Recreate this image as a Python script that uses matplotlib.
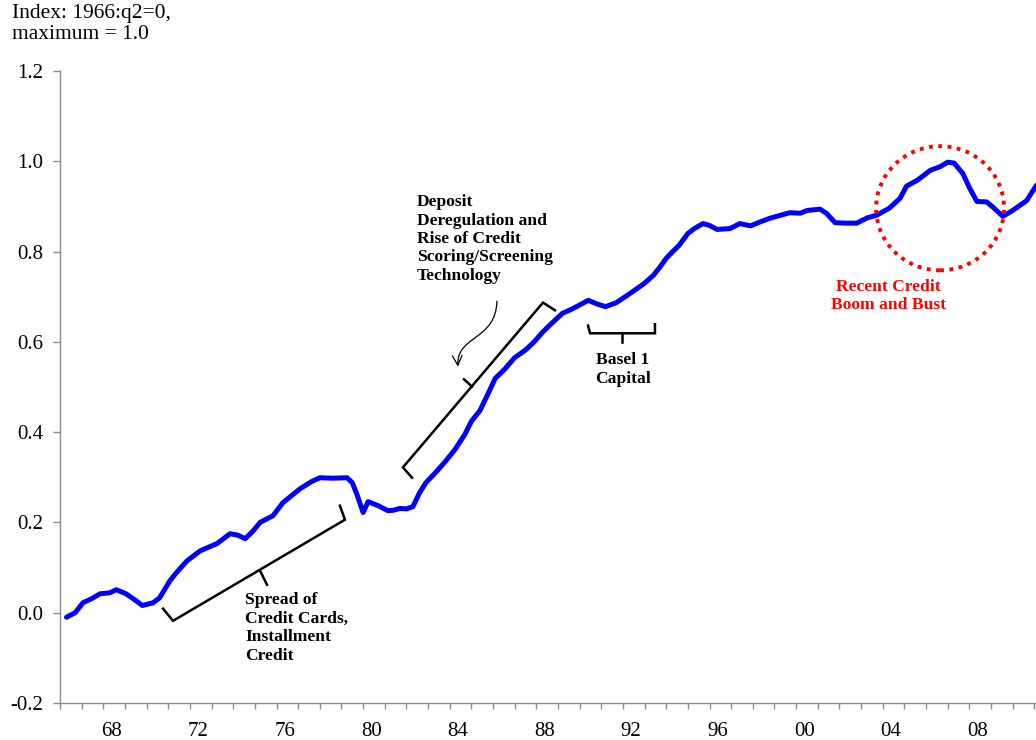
import matplotlib
matplotlib.use("Agg")
import matplotlib.pyplot as plt
from matplotlib.patches import Ellipse, FancyArrowPatch
from matplotlib.path import Path
from matplotlib.ticker import FixedLocator, FixedFormatter

plt.rcParams['font.family'] = ['Liberation Serif', 'DejaVu Serif']

# ---- data (year as decimal, index value) ----
dates = [1966.30, 1966.70, 1967.06, 1967.50, 1967.85, 1968.30, 1968.60, 1969.05, 1969.50, 1969.80,
         1970.30, 1970.60, 1971.08, 1971.40, 1971.87, 1972.47, 1972.90, 1973.25,
         1973.85, 1974.20, 1974.55, 1974.90, 1975.24, 1975.84, 1976.30, 1977.10, 1977.60,
         1978.00, 1978.60, 1979.26, 1979.50, 1979.70, 1980.00, 1980.23, 1980.70, 1981.15,
         1981.40, 1981.70, 1982.00, 1982.30, 1982.60, 1982.90, 1983.30, 1983.80, 1984.25, 1984.70,
         1985.00, 1985.40, 1985.80, 1986.10, 1986.55, 1987.00, 1987.50, 1987.90, 1988.30, 1988.60,
         1989.20, 1989.70, 1990.40, 1990.80, 1991.20, 1991.70, 1992.20, 1992.65, 1993.00, 1993.40,
         1993.70, 1994.00, 1994.30, 1994.60, 1995.00, 1995.30, 1995.70, 1996.00, 1996.35, 1996.95,
         1997.40, 1997.90, 1998.30, 1998.80, 1999.25, 1999.70, 2000.20, 2000.50, 2001.10, 2001.40,
         2001.80, 2002.25, 2002.80, 2003.30, 2003.70, 2004.30, 2004.80, 2005.10, 2005.60, 2006.20,
         2006.65, 2007.00, 2007.30, 2007.70, 2008.00, 2008.35, 2008.80, 2009.10, 2009.55, 2010.00,
         2010.65, 2011.10]
values = [-0.010, 0.000, 0.022, 0.032, 0.042, 0.044, 0.051, 0.042, 0.027, 0.016,
          0.022, 0.033, 0.071, 0.090, 0.115, 0.137, 0.146, 0.153,
          0.175, 0.172, 0.164, 0.180, 0.200, 0.215, 0.244, 0.275, 0.290,
          0.299, 0.298, 0.299, 0.288, 0.264, 0.222, 0.246, 0.237, 0.226,
          0.227, 0.231, 0.230, 0.235, 0.265, 0.288, 0.308, 0.335, 0.362, 0.395,
          0.424, 0.448, 0.488, 0.519, 0.540, 0.565, 0.582, 0.600, 0.622, 0.636,
          0.663, 0.674, 0.692, 0.684, 0.678, 0.687, 0.703, 0.718, 0.730, 0.747,
          0.765, 0.785, 0.800, 0.814, 0.840, 0.851, 0.862, 0.858, 0.849, 0.851,
          0.862, 0.857, 0.865, 0.874, 0.880, 0.886, 0.885, 0.891, 0.894, 0.885,
          0.864, 0.863, 0.863, 0.875, 0.880, 0.896, 0.918, 0.945, 0.958, 0.980,
          0.988, 0.998, 0.996, 0.973, 0.942, 0.911, 0.910, 0.898, 0.878, 0.891,
          0.913, 0.947]

tick_years = [1968, 1972, 1976, 1980, 1984, 1988, 1992, 1996, 2000, 2004, 2008]
tick_labels = ['68', '72', '76', '80', '84', '88', '92', '96', '00', '04', '08']
y_ticks = [-0.2, 0.0, 0.2, 0.4, 0.6, 0.8, 1.0, 1.2]
y_labels = ['-0.2', '0.0', '0.2', '0.4', '0.6', '0.8', '1.0', '1.2']

fig = plt.figure(figsize=(10.36, 7.40), dpi=100)
ax = fig.add_axes([60/1036, 37/740, 1 - 60/1036, (703-71)/740])

ax.plot(dates, values, color='#0000FF', lw=3.6, solid_joinstyle='round',
        solid_capstyle='round', zorder=3)

ax.set_xlim(1966, 2011.08)
ax.set_ylim(-0.2, 1.2)

for s in ['top', 'right']:
    ax.spines[s].set_visible(False)
for s in ['left', 'bottom']:
    ax.spines[s].set_color('#8c8c8c')
    ax.spines[s].set_linewidth(1.0)

ax.set_yticks(y_ticks)
ax.set_yticklabels(y_labels)
ax.tick_params(axis='y', direction='out', length=5, width=1, color='#8c8c8c',
               labelsize=15, pad=7)

ax.xaxis.set_major_locator(FixedLocator(list(range(1966, 2012))))
ax.xaxis.set_major_formatter(FixedFormatter([''] * 46))
ax.xaxis.set_minor_locator(FixedLocator([y + 0.38 for y in tick_years]))
ax.xaxis.set_minor_formatter(FixedFormatter(tick_labels))
ax.tick_params(axis='x', which='major', direction='out', length=4, width=1, color='#8c8c8c')
ax.tick_params(axis='x', which='minor', length=0, labelsize=15, pad=14)

fig.text(12/1036, 1 - 4/740, 'Index: 1966:q2=0,\nmaximum = 1.0', ha='left', va='top',
         fontsize=15.5, linespacing=1.12)

bk = dict(color='black', lw=1.8, solid_joinstyle='miter', zorder=2, clip_on=False)
# Bracket 1: credit cards
ax.plot([1970.76, 1971.22, 1979.16, 1978.93], [0.009, -0.018, 0.206, 0.237], **bk)
ax.plot([1975.24, 1975.56], [0.093, 0.062], **bk)
# Bracket 2: deregulation
ax.plot([1982.26, 1981.84, 1988.31, 1988.86], [0.299, 0.322, 0.687, 0.670], **bk)
ax.plot([1985.03, 1984.66], [0.501, 0.517], **bk)
# Bracket 3: Basel
ax.plot([1990.39, 1990.48, 1993.48, 1993.48], [0.636, 0.619, 0.619, 0.639], **bk)
ax.plot([1991.96, 1991.96], [0.619, 0.599], **bk)

arrow_path = Path([(1986.18, 0.690), (1986.14, 0.603), (1984.29, 0.614), (1984.38, 0.545)],
                  [Path.MOVETO, Path.CURVE4, Path.CURVE4, Path.CURVE4])
arrow = FancyArrowPatch(path=arrow_path, arrowstyle='->,head_length=7,head_width=3.5',
                        color='black', lw=0.9, zorder=2)
ax.add_patch(arrow)

txt = dict(fontsize=12.6, fontweight='bold', linespacing=1.2, zorder=4)
ax.text(1974.55, 0.045, 'Spread of\nCredit Cards,\nInstallment\nCredit', ha='left', va='top', **txt)
ax.text(1982.49, 0.927, 'Deposit\nDeregulation and\nRise of Credit\nScoring/Screening\nTechnology',
        ha='left', va='top', **txt)
ax.text(1992.0, 0.577, 'Basel 1\nCapital', ha='center', va='top', multialignment='center', **txt)
ax.text(2004.25, 0.740, 'Recent Credit\nBoom and Bust', ha='center', va='top',
        multialignment='center', color='#FF0000', **txt)

circ = Ellipse((2006.65, 0.896), 5.91, 0.275, fill=False, edgecolor='#FF0000', lw=2.8,
               linestyle=(0, (1, 1.4)), zorder=4)
ax.add_patch(circ)

fig.savefig('out.png', dpi=100)
